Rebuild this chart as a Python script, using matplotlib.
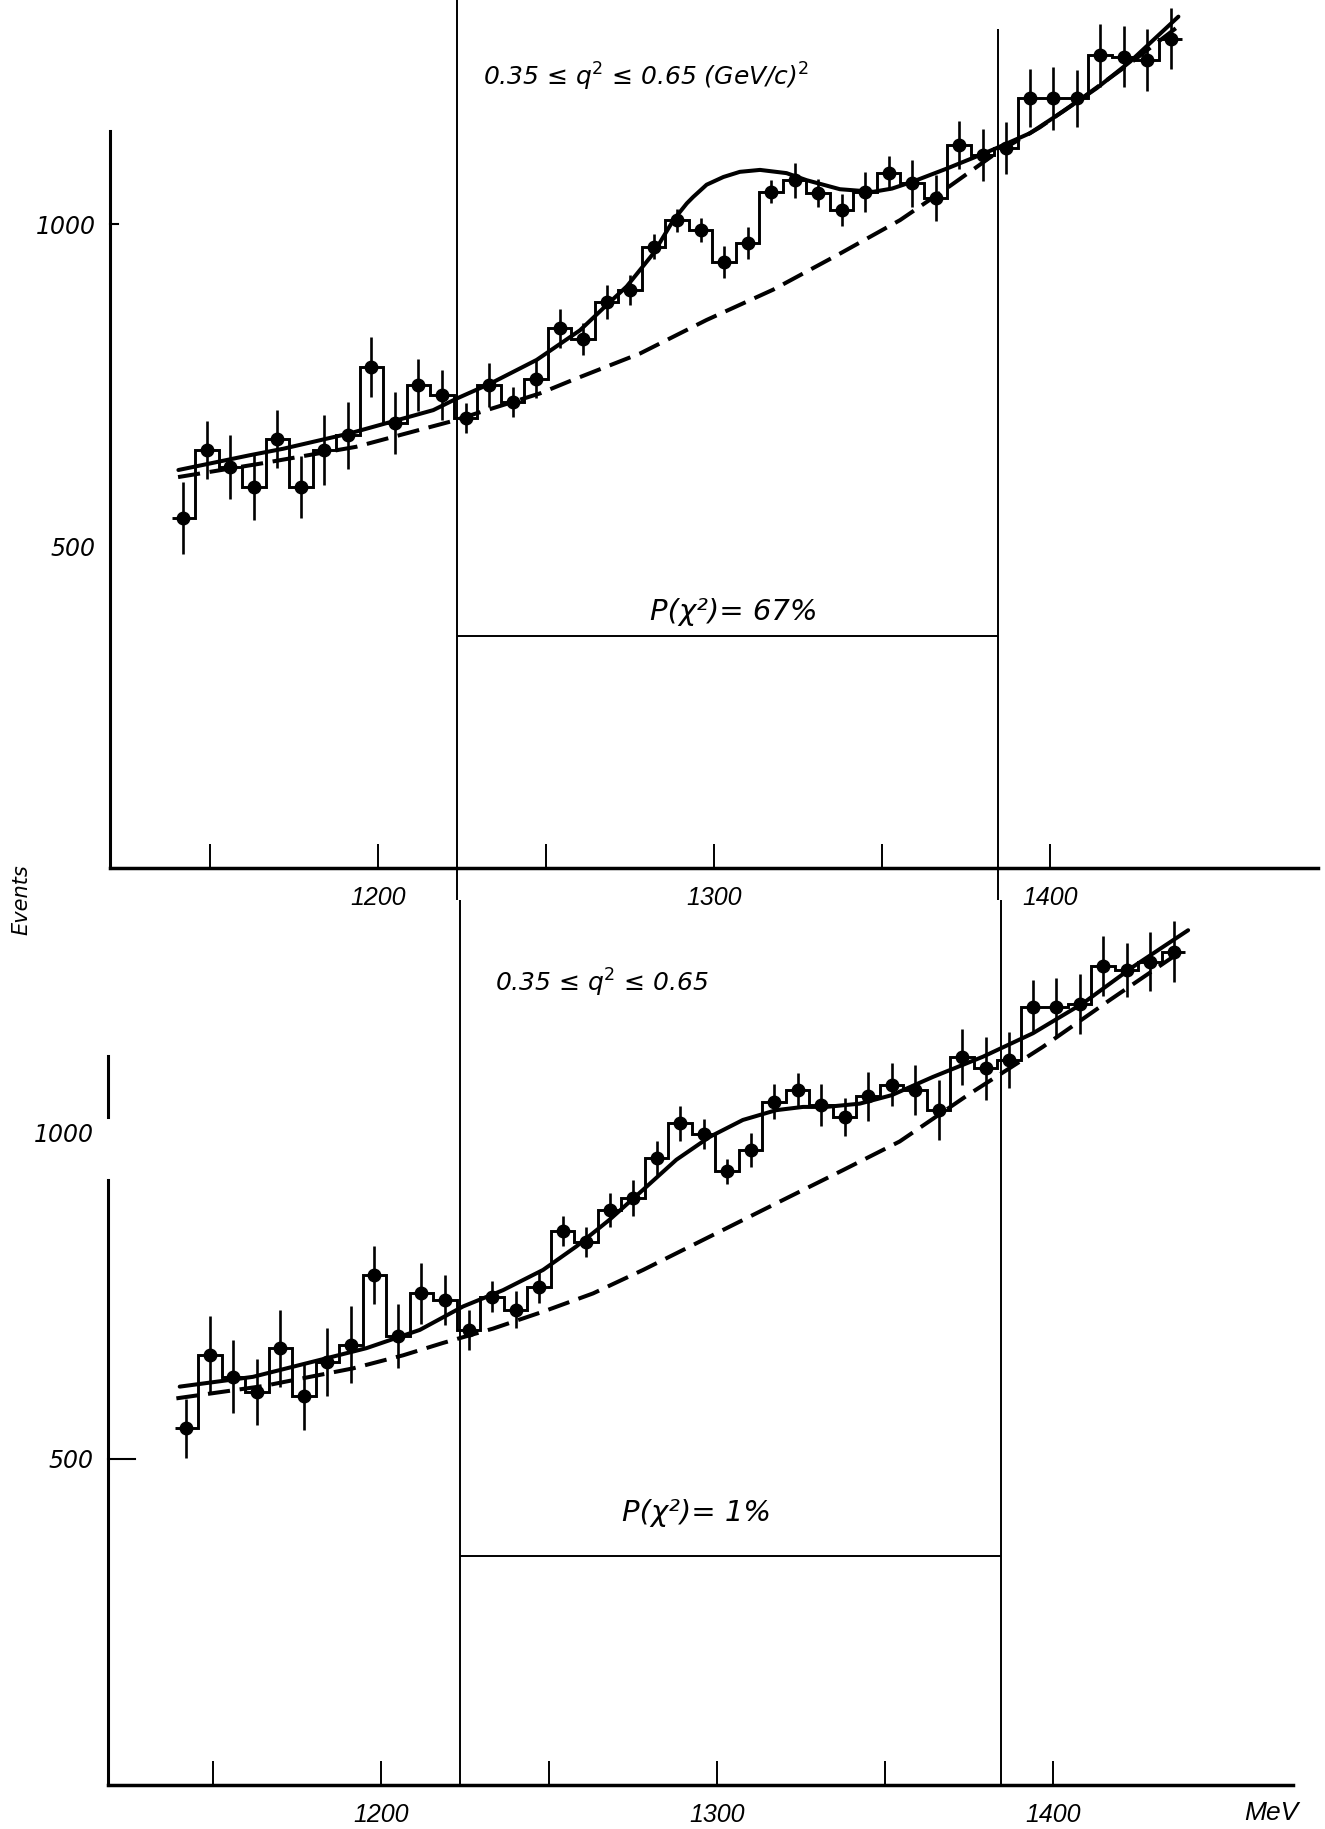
import numpy as np
import matplotlib
matplotlib.use('Agg')
import matplotlib.pyplot as plt

plt.rcParams['lines.scale_dashes'] = False
plt.rcParams['font.family'] = ['DejaVu Sans']
NARROW = ['Liberation Sans', 'DejaVu Sans']

# --- data -------------------------------------------------------------
bin_width = 7.0
centers = 1142 + bin_width * np.arange(43)          # MeV
edges = np.append(centers - bin_width / 2, centers[-1] + bin_width / 2)

top_counts = [543, 649, 623, 592, 666, 592, 649, 672, 778, 691, 750, 734, 699,
              750, 724, 760, 838, 822, 879, 898, 965, 1006, 991, 941, 970, 1050,
              1068, 1048, 1022, 1050, 1079, 1063, 1040, 1123, 1107, 1118, 1195,
              1195, 1195, 1262, 1260, 1255, 1288]
top_err = [56, 45, 50, 52, 45, 48, 55, 52, 46, 48, 40, 39, 23, 34, 23, 30, 30,
           25, 26, 23, 20, 18, 19, 25, 25, 18, 27, 22, 25, 31, 26, 36, 36, 37,
           41, 41, 45, 49, 44, 49, 47, 48, 48]

bot_counts = [547, 660, 626, 603, 670, 596, 649, 675, 782, 688, 754, 744, 698,
              749, 729, 764, 849, 833, 882, 900, 961, 1015, 999, 941, 974, 1048,
              1066, 1043, 1025, 1056, 1074, 1066, 1035, 1117, 1099, 1112, 1194,
              1193, 1198, 1256, 1250, 1263, 1278]
bot_err = [45, 59, 56, 51, 59, 51, 52, 59, 45, 49, 47, 38, 31, 24, 28, 24, 23,
           23, 26, 28, 26, 27, 23, 19, 26, 27, 26, 32, 29, 38, 33, 38, 46, 43,
           49, 43, 41, 45, 46, 46, 41, 45, 47]

# fitted curves (full fit and background), upper panel
fit_top_e = [1140.5, 1161.8, 1171.7, 1191.6, 1216.4, 1223.4, 1233.3, 1247.2,
             1260.1, 1268.0, 1274.0, 1281.9, 1287.9, 1291.9, 1293.8, 1297.8,
             1302.8, 1307.7, 1313.7, 1321.6, 1327.6, 1337.5, 1347.4, 1353.0,
             1359.3, 1369.3, 1379.2, 1384.2, 1394.1, 1404.0, 1414.0, 1423.9,
             1438.3]
fit_top_n = [618, 641, 651, 675, 711, 729, 752, 789, 835, 874, 903, 954, 1006,
             1032, 1042, 1061, 1073, 1081, 1084, 1079, 1068, 1054, 1050, 1055,
             1066, 1086, 1107, 1118, 1141, 1175, 1211, 1252, 1322]
bg_top_e = [1140.4, 1165.0, 1193.4, 1221.4, 1248.2, 1258.0, 1278.0, 1297.8,
            1317.6, 1337.5, 1355.4, 1370.0, 1384.0, 1397.0, 1410.0, 1424.0,
            1439.3]
bg_top_n = [607, 628, 654, 693, 737, 758, 799, 851, 898, 954, 1006, 1058, 1110,
            1150, 1197, 1250, 1311]

# lower panel
fit_bot_e = [1140.0, 1161.8, 1195.6, 1211.5, 1224.4, 1236.3, 1248.2, 1258.1,
             1268.0, 1278.0, 1287.9, 1297.8, 1307.7, 1317.6, 1325.6, 1332.5,
             1342.5, 1352.0, 1364.3, 1379.2, 1394.1, 1409.0, 1423.9, 1440.3]
fit_bot_n = [611, 626, 670, 698, 734, 759, 790, 826, 867, 913, 959, 994, 1020,
             1035, 1040, 1040, 1045, 1058, 1086, 1117, 1153, 1199, 1255, 1311]
bg_bot_e = [1139.0, 1165.0, 1191.6, 1206.5, 1218.4, 1233.3, 1248.2, 1263.1,
            1278.0, 1297.8, 1317.6, 1337.5, 1354.4, 1375.2, 1397.0, 1417.0,
            1438.9]
bg_bot_n = [593, 612, 639, 659, 678, 700, 726, 754, 790, 841, 892, 943, 987,
            1060, 1132, 1204, 1281]

cuts = [1223.5, 1384.5]          # fit window, MeV
xticks = [1150, 1200, 1250, 1300, 1350, 1400]
xtick_labels = ['', '1200', '', '1300', '', '1400']

# --- figure -----------------------------------------------------------
W, H = 1325, 1829
fig = plt.figure(figsize=(W / 100, H / 100), dpi=100)


def make_panel(top_px, bot_px, x1300_px, px_mev, zero_px, px_evt):
    ax = fig.add_axes([0, 1 - bot_px / H, 1, (bot_px - top_px) / H])
    ax.set_xlim(1300 - x1300_px / px_mev, 1300 + (W - x1300_px) / px_mev)
    ax.set_ylim((zero_px - bot_px) / px_evt, (zero_px - top_px) / px_evt)
    ax.patch.set_visible(False)
    for s in ['top', 'right']:
        ax.spines[s].set_visible(False)
    return ax


def draw_data(ax, counts, err, fit_e, fit_n, bg_e, bg_n):
    ax.stairs(counts, edges, baseline=None, color='k', lw=2.1)
    ax.plot(bg_e, bg_n, color='k', lw=2.9, ls=(0, (16, 7)))
    ax.plot(fit_e, fit_n, color='k', lw=2.9, solid_capstyle='round',
            solid_joinstyle='round')
    ax.errorbar(centers, counts, yerr=err, fmt='none', ecolor='k',
                elinewidth=1.9, capsize=0)
    ax.plot(centers, counts, 'o', color='k', ms=9)


def style_axes(ax, x0, x1, pad_x):
    ax.spines['bottom'].set_position(('data', 0))
    ax.spines['bottom'].set_bounds(x0, x1)
    ax.spines['bottom'].set_linewidth(2.5)
    ax.spines['left'].set_position(('data', x0))
    ax.set_xticks(xticks)
    ax.set_xticklabels(xtick_labels, fontfamily=NARROW, fontstyle='italic',
                       fontsize=18)
    ax.tick_params(axis='x', direction='in', length=17, width=1.4, pad=pad_x)
    ax.set_yticks([500, 1000])
    ax.set_yticklabels(['500', '1000'], fontstyle='italic', fontsize=17)
    ax.tick_params(axis='y', length=0, pad=10)


# upper panel
ax1 = make_panel(0, 900, 714, 3.358, 868, 0.644)
draw_data(ax1, top_counts, top_err, fit_top_e, fit_top_n, bg_top_e, bg_top_n)
style_axes(ax1, 1120, 1480, 13)
ax1.spines['left'].set_bounds(0, 1144)
ax1.spines['left'].set_linewidth(2.2)
ax1.plot([1120, 1122.5], [1000, 1000], color='k', lw=1.5)
ylo, yhi = ax1.get_ylim()
ax1.vlines(cuts[0], ylo, yhi, color='k', lw=1.4)
ax1.vlines(cuts[1], ylo, 1303, color='k', lw=1.4)
ax1.hlines(360, cuts[0], cuts[1], color='k', lw=1.4)
ax1.text(1231.2, 1228, r'0.35 ≤ q$^2$ ≤ 0.65 (GeV/c)$^2$',
         fontstyle='italic', fontsize=18, va='center', ha='left')
ax1.text(1305.9, 397, 'P(χ²)= 67%', fontstyle='italic',
         fontsize=21, va='center', ha='center')

# lower panel
ax2 = make_panel(900, H, 717, 3.358, 1785, 0.652)
draw_data(ax2, bot_counts, bot_err, fit_bot_e, fit_bot_n, bg_bot_e, bg_bot_n)
style_axes(ax2, 1118.6, 1471.4, 13)
ax2.spines['left'].set_bounds(0, 928)
ax2.spines['left'].set_linewidth(2.2)
ax2.plot([1118.6, 1118.6], [1024, 1118], color='k', lw=2.2)
ax2.plot([1118.6, 1126.6], [500, 500], color='k', lw=1.5)
ylo, yhi = ax2.get_ylim()
ax2.vlines(cuts, 0, yhi, color='k', lw=1.4)
ax2.hlines(351, cuts[0], cuts[1], color='k', lw=1.4)
ax2.text(1233.9, 1230, r'0.35 ≤ q$^2$ ≤ 0.65',
         fontstyle='italic', fontsize=18, va='center', ha='left')
ax2.text(1294, 417, 'P(χ²)= 1%', fontstyle='italic',
         fontsize=21, va='center', ha='center')
ax2.text(1465, -43, 'MeV', fontfamily=NARROW, fontstyle='italic', fontsize=19,
         va='center', ha='center')

fig.text(21 / W, 1 - 900 / H, 'Events', rotation=90, fontstyle='italic',
         fontsize=15, va='center', ha='center')

fig.savefig('out.png', dpi=100, facecolor='white')
